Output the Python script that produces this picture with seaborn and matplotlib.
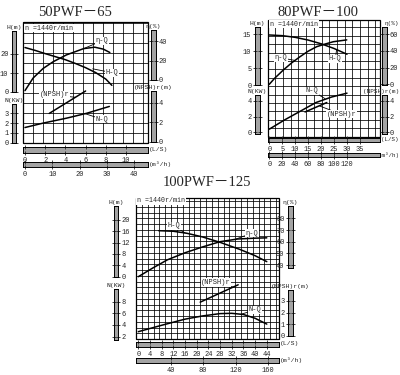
import matplotlib
matplotlib.use("Agg")
import numpy as np
import matplotlib.pyplot as plt
import seaborn as sns
from matplotlib.patches import Rectangle

# ---------------- 50PWF-65 ----------------
A_TITLE = "50PWF－65"
A_HQ_Q = [0, 1, 2, 3, 4, 5, 6, 7, 8, 8.6]
A_HQ_H = [23.4, 21.9, 20.2, 18.6, 17.0, 15.0, 12.8, 10.2, 6.8, 3.5]
A_EFF_Q = [0, 0.8, 1.8, 2.8, 4.1, 5.8, 6.9, 7.75, 8.4]
A_EFF = [-11, 2, 12, 19, 26, 32.5, 34, 32, 28.5]
A_NPSH_Q = [2.4, 6.0]
A_NPSH = [2.9, 5.2]
A_NQ_Q = [0, 1.8, 4.1, 6.1, 8.35]
A_NQ_N = [1.55, 2.0, 2.5, 3.0, 3.7]
A_H_TICKS = [0, 10, 20]
A_N_TICKS = [0, 1, 2, 3]
A_EFF_TICKS = [0, 20, 40]
A_NPSH_TICKS = [0, 2, 4]
A_Q_TICKS = [0, 2, 4, 6, 8, 10]
A_M3H_TICKS = [0, 10, 20, 30, 40]

# ---------------- 80PWF-100 ----------------
B_TITLE = "80PWF－100"
B_HQ_Q = [0, 5, 10, 15, 20, 25, 30]
B_HQ_H = [14.8, 14.6, 14.1, 13.3, 12.2, 10.8, 9.1]
B_EFF_Q = [0, 2, 5.4, 8.6, 11.9, 15, 18.3, 21.5, 24.7, 29.9]
B_EFF = [0, 7, 17, 25.5, 33, 39.5, 44.9, 48, 50.8, 53]
B_NPSH_Q = [13.8, 22.2]
B_NPSH = [2.6, 3.8]
B_NQ_Q = [0, 6, 12, 18, 24, 30]
B_NQ_N = [0.4, 1.6, 2.7, 3.8, 4.5, 5.0]
B_H_TICKS = [0, 5, 10, 15]
B_N_TICKS = [0, 2, 4]
B_EFF_TICKS = [0, 20, 40, 60]
B_NPSH_TICKS = [0, 2, 4]
B_Q_TICKS = [0, 5, 10, 15, 20, 25, 30, 35]
B_M3H_TICKS = [0, 20, 40, 60, 80, 100, 120]

# ---------------- 100PWF-125 ----------------
C_TITLE = "100PWF－125"
C_HQ_Q = [7, 12, 16.6, 22, 28, 34.8, 40, 44]
C_HQ_H = [16.2, 16.0, 15.3, 14.0, 12.1, 9.6, 7.4, 5.3]
C_EFF_Q = [0, 5, 10, 16, 22, 28, 34, 40, 44]
C_EFF = [30, 37.5, 44.5, 50.5, 55.5, 60, 62.3, 63, 63.3]
C_NPSH_Q = [21.2, 34.2]
C_NPSH = [2.9, 4.4]
C_NQ_Q = [0, 8, 16, 22, 28, 32, 36, 40, 44]
C_NQ_N = [2.85, 3.95, 5.0, 5.55, 5.95, 6.0, 5.8, 5.15, 4.15]
C_H_TICKS = [0, 4, 8, 12, 16, 20]
C_N_TICKS = [2, 4, 6, 8]
C_EFF_TICKS = [40, 50, 60, 70, 80]
C_NPSH_TICKS = [0, 1, 2, 3]
C_Q_TICKS = [0, 4, 8, 12, 16, 20, 24, 28, 32, 36, 40, 44]
C_M3H_TICKS = [40, 80, 120, 160]

SPEED = "n =1440r/min"

# pixel layout of each panel: (zero px, px per unit) for every scale
LAY_A = dict(box=(22.7, 22, 148, 143), col=10.0, row=10.0,
             q=(25, 10.1), m3h=3.7, h=(92, 1.9), n=(142.7, 9.8),
             eta=(80, 0.965), npsh=(141.7, 9.75),
             hbar=(12, 31, 16.5, 92), nbar=(12, 104, 16.5, 143), lside="left",
             ebar=(151, 30, 155.5, 80), sbar=(151, 91, 155.5, 142), rside="right",
             qbar=(147, 152.5), mbar=(162, 167), title=(75, 13), speed=(25, 28),
             lab=dict(eta=((7.6, 40.5), (5.8, 32.5)), h=((8.6, 10.2), (6.7, 12.2)),
                      npsh=((2.9, 4.8), (5.0, 4.55)), n=((7.6, 2.4), (5.9, 2.98))))
LAY_B = dict(box=(267.7, 20, 380, 136.7), col=7.7, row=8.4,
             q=(269.3, 2.59), m3h=4.0, h=(85, 3.38), n=(132.3, 7.83),
             eta=(84.3, 0.838), npsh=(132.3, 7.83),
             hbar=(255, 27, 259.5, 85), nbar=(255, 95, 259.5, 134), lside="left",
             ebar=(382, 27, 386.5, 85), sbar=(382, 95, 386.5, 134), rside="right",
             qbar=(138, 142), mbar=(153, 157), title=(318, 12), speed=(270, 24),
             lab=dict(eta=((4.6, 31.5), (9.9, 28.5)), h=((25.5, 7.8), (26, 10.5)),
                      npsh=((27.9, 2.3), (19.5, 3.35)), n=((16.5, 5.3), (21.5, 4.3))))
LAY_C = dict(box=(136, 198.3, 279.3, 339), col=5.84, row=5.75,
             q=(138.3, 2.92), m3h=3.6, h=(276.7, 2.84), n=(348.3, 5.83),
             eta=(311.7, 1.167), npsh=(335.7, 11.57),
             hbar=(114, 206, 118.5, 277), nbar=(114, 289, 118.5, 340), lside="right",
             ebar=(288, 206, 292.5, 268), sbar=(288, 290, 292.5, 336), rside="left",
             qbar=(341.5, 346.5), mbar=(358, 362.5), title=(207, 183), speed=(137, 201),
             lab=dict(eta=((38.8, 67.2), (33.5, 62.3)), h=((12.2, 17.9), (16, 15.4)),
                      npsh=((26.6, 4.6), (32.5, 4.2)), n=((40, 6.6), (35, 5.8))))

W, HT = 400, 375
BAR_FC = "#a3a3a3"
LABEL_FONT = ["Liberation Mono", "DejaVu Sans Mono"]
TITLE_FONT = ["Liberation Serif", "Noto Sans CJK SC"]

sns.set_theme(style="white")
plt.rcParams["font.family"] = LABEL_FONT

fig = plt.figure(figsize=(W / 100, HT / 100), dpi=100, facecolor="white")
bg = fig.add_axes([0, 0, 1, 1])
bg.set_xlim(0, W)
bg.set_ylim(HT, 0)
bg.axis("off")


def rect(x0, y0, x1, y1):
    return [x0 / W, 1 - y1 / HT, (x1 - x0) / W, (y1 - y0) / HT]


def hlim(x0, x1, scale):
    zero, ppu = scale
    return (x0 - zero) / ppu, (x1 - zero) / ppu


def vlim(y0, y1, scale):
    zero, ppu = scale
    return (zero - y1) / ppu, (zero - y0) / ppu


def vbar(box, scale, ticks, side, name):
    x0, y0, x1, y1 = box
    ax = fig.add_axes(rect(*box))
    ax.set_ylim(*vlim(y0, y1, scale))
    ax.set_facecolor(BAR_FC)
    ax.set_xticks([])
    ax.set_yticks(ticks)
    ax.tick_params(axis="y", direction="inout", length=3, width=0.6, labelsize=5,
                   pad=1, left=True, right=True,
                   labelleft=(side == "left"), labelright=(side == "right"))
    for s in ax.spines.values():
        s.set_linewidth(0.7)
        s.set_color("black")
    cx = (x0 + x1) / 2
    if cx + 16 > W:
        # keep the name inside the picture near the right edge
        bg.text(W - 1, y0 - 1, name, fontsize=4.3, ha="right", va="bottom")
    else:
        bg.text(cx, y0 - 1, name, fontsize=4.6, ha="center", va="bottom")


def hbar(box, y0, y1, xl, ticks, name):
    ax = fig.add_axes(rect(box[0], y0, box[2], y1))
    ax.set_xlim(*xl)
    ax.set_facecolor(BAR_FC)
    ax.set_yticks([])
    ax.set_xticks(ticks)
    ax.tick_params(axis="x", direction="inout", length=3, width=0.6, labelsize=5,
                   pad=1.5, bottom=True, top=True)
    for s in ax.spines.values():
        s.set_linewidth(0.7)
        s.set_color("black")
    if box[2] + 22 > W:
        bg.text(W - 1, (y0 + y1) / 2, name, fontsize=4.2, ha="right", va="center")
    else:
        bg.text(box[2] + 1, (y0 + y1) / 2, name, fontsize=4.6, ha="left", va="center")


def label(ax, text, spot):
    (tx, ty), (px, py) = spot
    ax.annotate(text, xy=(px, py), xytext=(tx, ty), textcoords="data",
                fontsize=5, ha="center", va="center",
                bbox=dict(fc="white", ec="none", pad=0.4),
                arrowprops=dict(arrowstyle="-", lw=0.6, color="black",
                                shrinkA=0, shrinkB=0))


def pump_chart(lay, title, hq, eff, npsh, nq, ticks):
    x0, y0, x1, y1 = lay["box"]
    # grid and frame
    bg.vlines(np.arange(x0, x1, lay["col"]), y0, y1, color="black", lw=0.55)
    bg.hlines(np.arange(y1, y0, -lay["row"]), x0, x1, color="black", lw=0.55)
    bg.add_patch(Rectangle((x0, y0), x1 - x0, y1 - y0, fill=False, ec="black", lw=0.9))
    bg.text(lay["speed"][0], lay["speed"][1], SPEED, fontsize=4.8, ha="left", va="center",
            bbox=dict(fc="white", ec="none", pad=0.5))
    bg.text(lay["title"][0], lay["title"][1], title, fontsize=10.5, ha="center",
            va="center", family=TITLE_FONT)

    qlims = hlim(x0, x1, lay["q"])
    ax = fig.add_axes(rect(*lay["box"]))
    ax.set_xlim(*qlims)
    ax.set_ylim(*vlim(y0, y1, lay["h"]))
    ax.axis("off")
    sns.lineplot(x=hq[0], y=hq[1], ax=ax, color="black", lw=1.1, estimator=None, sort=False)
    label(ax, "H-Q", lay["lab"]["h"])

    for key, (qs, vals), text in (("eta", eff, "η-Q"), ("npsh", npsh, "(NPSH)r"),
                                  ("n", nq, "N-Q")):
        tw = ax.twinx()
        tw.set_ylim(*vlim(y0, y1, lay[key]))
        tw.axis("off")
        sns.lineplot(x=qs, y=vals, ax=tw, color="black", lw=1.1, estimator=None, sort=False)
        label(tw, text, lay["lab"][key])

    vbar(lay["hbar"], lay["h"], ticks[0], lay["lside"], "H(m)")
    vbar(lay["nbar"], lay["n"], ticks[1], lay["lside"], "N(KW)")
    vbar(lay["ebar"], lay["eta"], ticks[2], lay["rside"], "η(%)")
    vbar(lay["sbar"], lay["npsh"], ticks[3], lay["rside"], "(NPSH)r(m)")
    hbar(lay["box"], *lay["qbar"], qlims, ticks[4], "(L/S)")
    hbar(lay["box"], *lay["mbar"], (qlims[0] * lay["m3h"], qlims[1] * lay["m3h"]),
         ticks[5], "(m³/h)")


pump_chart(LAY_A, A_TITLE, (A_HQ_Q, A_HQ_H), (A_EFF_Q, A_EFF), (A_NPSH_Q, A_NPSH),
           (A_NQ_Q, A_NQ_N),
           (A_H_TICKS, A_N_TICKS, A_EFF_TICKS, A_NPSH_TICKS, A_Q_TICKS, A_M3H_TICKS))
pump_chart(LAY_B, B_TITLE, (B_HQ_Q, B_HQ_H), (B_EFF_Q, B_EFF), (B_NPSH_Q, B_NPSH),
           (B_NQ_Q, B_NQ_N),
           (B_H_TICKS, B_N_TICKS, B_EFF_TICKS, B_NPSH_TICKS, B_Q_TICKS, B_M3H_TICKS))
pump_chart(LAY_C, C_TITLE, (C_HQ_Q, C_HQ_H), (C_EFF_Q, C_EFF), (C_NPSH_Q, C_NPSH),
           (C_NQ_Q, C_NQ_N),
           (C_H_TICKS, C_N_TICKS, C_EFF_TICKS, C_NPSH_TICKS, C_Q_TICKS, C_M3H_TICKS))

fig.savefig("out.png", dpi=100, facecolor="white")
